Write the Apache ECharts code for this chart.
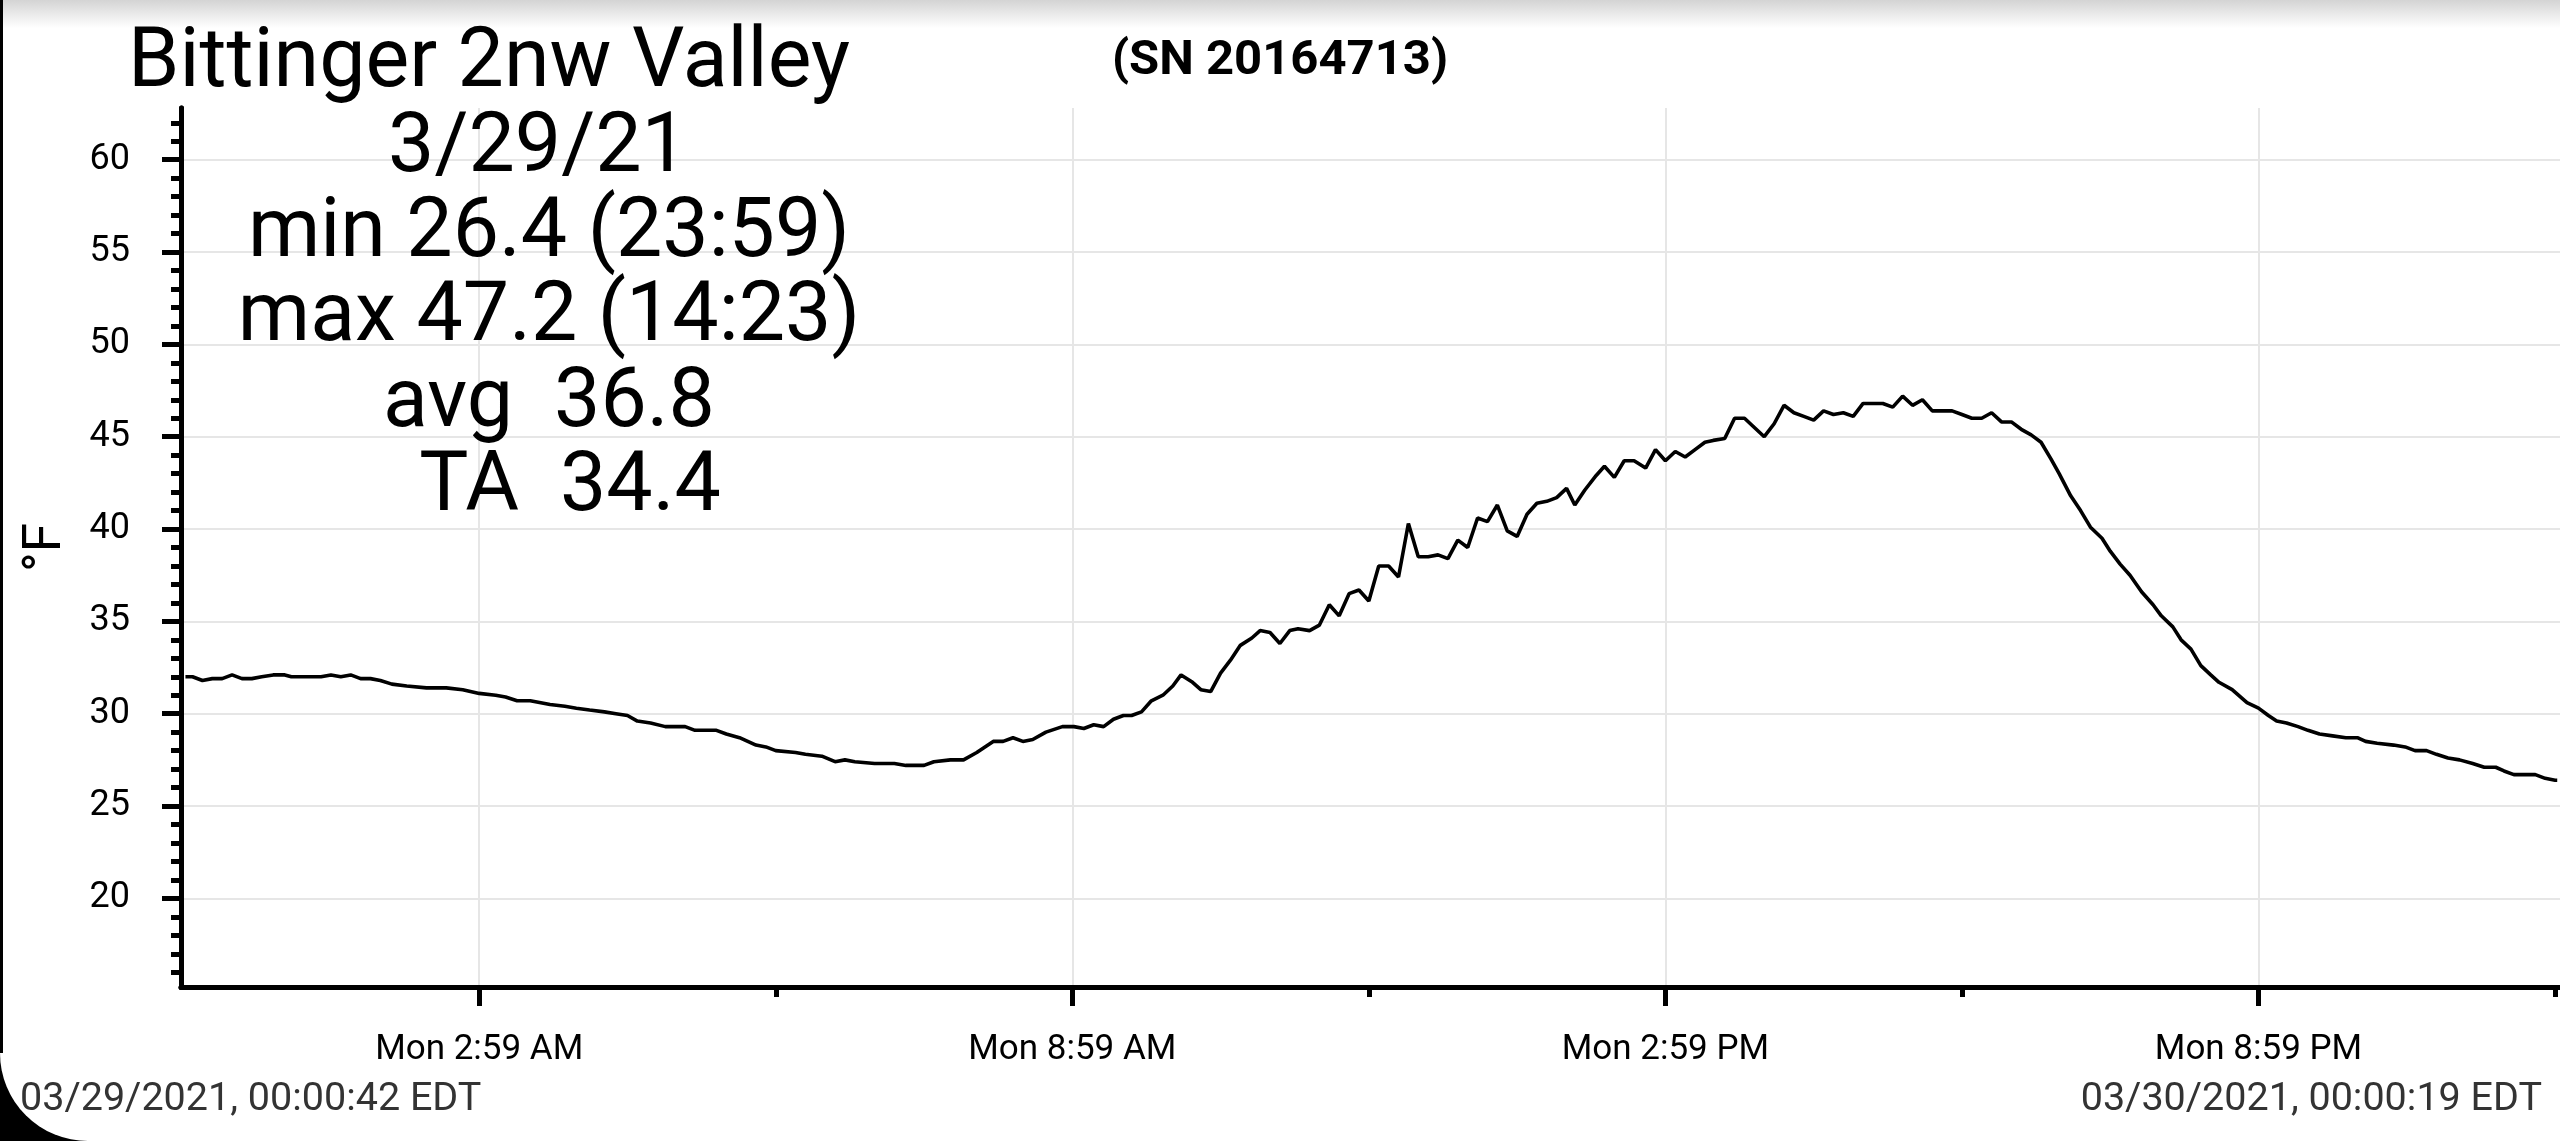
<!DOCTYPE html>
<html>
<head>
<meta charset="utf-8">
<script src="https://cdn.jsdelivr.net/npm/echarts@6/dist/echarts.min.js"></script>
<style>
html,body{margin:0;padding:0;background:#fff;}
#chart{width:2560px;height:1141px;}
</style>
</head>
<body>
<div id="chart"></div>
<script>
// ---- data (times of day on 3/29/21, temperature °F) ----
const times = ["0:00:42","0:05","0:11","0:17","0:23","0:29","0:35","0:41","0:47","0:54","1:01","1:05","1:23","1:29","1:35","1:41","1:47","1:53","1:59","2:06","2:15","2:27","2:39","2:49","2:59","3:09","3:15","3:22","3:30","3:42","3:51","3:58","4:06","4:15","4:22","4:29","4:35","4:43","4:52","4:58","5:04","5:10","5:23","5:29","5:37","5:42","5:47","5:53","5:59",
"6:11","6:17","6:27","6:35","6:41","6:47","6:59","7:11","7:18","7:23","7:29","7:35","7:45","7:53","8:01","8:11","8:17","8:23","8:29","8:35","8:43","8:53","9:00","9:06","9:12","9:18","9:24","9:30","9:35","9:41","9:47","9:54","10:00","10:05","10:12","10:17","10:23","10:29","10:35","10:41","10:48","10:53","10:59","11:05","11:11","11:16","11:23","11:29","11:35","11:41","11:47","11:53","11:59","12:05","12:11",
"12:17","12:23","12:29","12:35","12:41","12:47","12:53","12:59","13:05","13:11","13:17","13:23","13:29","13:35","13:41","13:47","13:53","13:59","14:04","14:10","14:17","14:22","14:28","14:34","14:40","14:47","14:53","14:59","15:05","15:11","15:17","15:23","15:28","15:35","15:41","15:47","15:53","15:59","16:05","16:11","16:17","16:23","16:29","16:35","16:41","16:47","16:53","16:59","17:05","17:11","17:17","17:23","17:29","17:35","17:41","17:47","17:53","17:59","18:05","18:11","18:17","18:23",
"18:29","18:35","18:41","18:47","18:53","18:58","19:05","19:11","19:17","19:24","19:29","19:35","19:41","19:48","19:55","20:00","20:07","20:12","20:18","20:24","20:30","20:35","20:43","20:52","20:59","21:05","21:10","21:16","21:23","21:29","21:36","21:44","21:52","21:59","22:04","22:11","22:21","22:28","22:34","22:41","22:47","22:54","23:01","23:09","23:16","23:23","23:28","23:34","23:40","23:47","23:53","23:59","24:00:19"];
const tempsF = [32.0,32.0,31.8,31.9,31.9,32.1,31.9,31.9,32.0,32.1,32.1,32.0,32.0,32.1,32.0,32.1,31.9,31.9,31.8,31.6,31.5,31.4,31.4,31.3,31.1,31.0,30.9,30.7,30.7,30.5,30.4,30.3,30.2,30.1,30.0,29.9,29.6,29.5,29.3,29.3,29.3,29.1,29.1,28.9,28.7,28.5,28.3,28.2,28.0,
27.9,27.8,27.7,27.4,27.5,27.4,27.3,27.3,27.2,27.2,27.2,27.4,27.5,27.5,27.9,28.5,28.5,28.7,28.5,28.6,29.0,29.3,29.3,29.2,29.4,29.3,29.7,29.9,29.9,30.1,30.7,31.0,31.5,32.1,31.7,31.3,31.2,32.2,32.9,33.7,34.1,34.5,34.4,33.8,34.5,34.6,34.5,34.8,35.9,35.3,36.5,36.7,36.1,38.0,38.0,
37.4,40.3,38.5,38.5,38.6,38.4,39.4,39.0,40.6,40.4,41.3,39.9,39.6,40.8,41.4,41.5,41.7,42.2,41.3,42.1,42.9,43.4,42.8,43.7,43.7,43.3,44.3,43.7,44.2,43.9,44.3,44.7,44.8,44.9,46.0,46.0,45.5,45.0,45.7,46.7,46.3,46.1,45.9,46.4,46.2,46.3,46.1,46.8,46.8,46.8,46.6,47.2,46.7,47.0,46.4,46.4,46.4,46.2,46.0,46.0,46.3,45.8,
45.8,45.4,45.1,44.7,43.8,43.0,41.8,41.0,40.1,39.5,38.8,38.1,37.5,36.6,35.9,35.3,34.7,34.0,33.5,32.6,32.1,31.7,31.3,30.6,30.3,29.9,29.6,29.5,29.3,29.1,28.9,28.8,28.7,28.7,28.5,28.4,28.3,28.2,28.0,28.0,27.8,27.6,27.5,27.3,27.1,27.1,26.9,26.7,26.7,26.7,26.5,26.4,26.4];

// axis ticks / labels
const xMajorTicks = ["2:59","8:59","14:59","20:59"];
const xMajorLabels = ["Mon 2:59 AM","Mon 8:59 AM","Mon 2:59 PM","Mon 8:59 PM"];
const xMinorTicks = ["5:59","11:59","17:59","23:59"];
const xRange = ["-0:02","24:02"];
const yMajorTicks = [20,25,30,35,40,45,50,55,60];
const yMinorTicks = [16,17,18,19,21,22,23,24,26,27,28,29,31,32,33,34,36,37,38,39,41,42,43,44,46,47,48,49,51,52,53,54,56,57,58,59,61,62];
const yRange = [15.2, 62.8];

// texts
const titleLines = ["Bittinger 2nw Valley","3/29/21","min 26.4 (23:59)","max 47.2 (14:23)","avg  36.8","TA  34.4"];
const serialText = "(SN 20164713)";
const yName = "°F";
const startText = "03/29/2021, 00:00:42 EDT";
const endText = "03/30/2021, 00:00:19 EDT";

function toMin(s){
  let neg = s[0]==='-'; if(neg) s = s.slice(1);
  const p = s.split(':').map(Number);
  const v = p[0]*60 + p[1] + (p[2]||0)/60;
  return neg ? -v : v;
}
const seriesData = times.map((t,i)=>[toMin(t), tempsF[i]]);
const xMajorVals = xMajorTicks.map(toMin);
const xMinorVals = xMinorTicks.map(toMin);

const FONT = 'Roboto';
const chart = echarts.init(document.getElementById('chart'), null, {renderer:'canvas'});

const titleX = [489, 538, 549, 549, 549, 570];
const titleY = [65, 150, 235, 319, 405, 489];

chart.setOption({
  animation:false,
  backgroundColor:'#ffffff',
  grid:{left:181, right:-4, top:108, bottom:154, containLabel:false},
  xAxis:[{
    type:'value', min:toMin(xRange[0]), max:toMin(xRange[1]), position:'bottom',
    axisLine:{show:true, onZero:false, lineStyle:{color:'#000', width:5}},
    axisTick:{show:true, customValues:xMajorVals, length:19, lineStyle:{color:'#000', width:5}},
    axisLabel:{show:true, customValues:xMajorVals, fontSize:35, fontFamily:FONT, color:'#000', margin:46,
      formatter:function(v){ for(let i=0;i<xMajorVals.length;i++){ if(Math.abs(v-xMajorVals[i])<0.01) return xMajorLabels[i]; } return ''; }},
    splitLine:{show:true, lineStyle:{color:'#e6e6e6', width:2}}
  },{
    type:'value', min:toMin(xRange[0]), max:toMin(xRange[1]), position:'bottom',
    axisLine:{show:true, onZero:false, lineStyle:{color:'#000', width:5}},
    axisTick:{show:true, customValues:xMinorVals, length:10, lineStyle:{color:'#000', width:5}},
    axisLabel:{show:false},
    splitLine:{show:false}
  }],
  yAxis:[{
    type:'value', min:yRange[0], max:yRange[1], position:'left',
    name:yName, nameLocation:'middle', nameRotate:90, nameGap:108,
    nameTextStyle:{fontSize:53, fontFamily:FONT, color:'#000'},
    axisLine:{show:true, onZero:false, lineStyle:{color:'#000', width:5}},
    axisTick:{show:true, customValues:yMajorTicks, length:19, lineStyle:{color:'#000', width:5}},
    axisLabel:{show:true, customValues:yMajorTicks, fontSize:36, fontFamily:FONT, color:'#000', margin:51},
    splitLine:{show:true, lineStyle:{color:'#e6e6e6', width:2}}
  },{
    type:'value', min:yRange[0], max:yRange[1], position:'left',
    axisLine:{show:true, onZero:false, lineStyle:{color:'#000', width:5}},
    axisTick:{show:true, customValues:yMinorTicks, length:10, lineStyle:{color:'#000', width:5}},
    axisLabel:{show:false},
    splitLine:{show:false}
  }],
  series:[{
    type:'line', xAxisIndex:0, yAxisIndex:0, data:seriesData, showSymbol:false, symbol:'none',
    lineStyle:{color:'#000', width:3.6}, clip:true, z:5
  }],
  graphic:[
    {type:'rect', z:-10, shape:{x:0,y:0,width:2560,height:28},
      style:{fill:{type:'linear',x:0,y:0,x2:0,y2:1,colorStops:[{offset:0,color:'#d4d4d4'},{offset:1,color:'#ffffff'}]}}},
    {type:'rect', z:100, shape:{x:0,y:0,width:3,height:1141}, style:{fill:'#000'}},
    {type:'rect', z:100, shape:{x:0,y:1053,width:88,height:88}, style:{fill:'#000'}},
    {type:'sector', z:101, shape:{cx:88, cy:1053, r0:0, r:88, startAngle:Math.PI/2, endAngle:Math.PI, clockwise:true}, style:{fill:'#fff'}},
    ...titleLines.map((t,i)=>({type:'text', z:50, x:titleX[i], y:titleY[i],
      style:{text:t, fontSize:82.5, fontFamily:FONT, fill:'#000', align:'center', verticalAlign:'middle'}})),
    {type:'text', z:50, x:1280, y:62, style:{text:serialText, fontSize:49, fontWeight:'bold', fontFamily:FONT, fill:'#000', align:'center', verticalAlign:'middle'}},
    {type:'text', z:150, x:20, y:1100, style:{text:startText, fontSize:39.5, fontFamily:FONT, fill:'#333', align:'left', verticalAlign:'middle'}},
    {type:'text', z:150, x:2542, y:1100, style:{text:endText, fontSize:39.5, fontFamily:FONT, fill:'#333', align:'right', verticalAlign:'middle'}}
  ]
});
</script>
</body>
</html>
